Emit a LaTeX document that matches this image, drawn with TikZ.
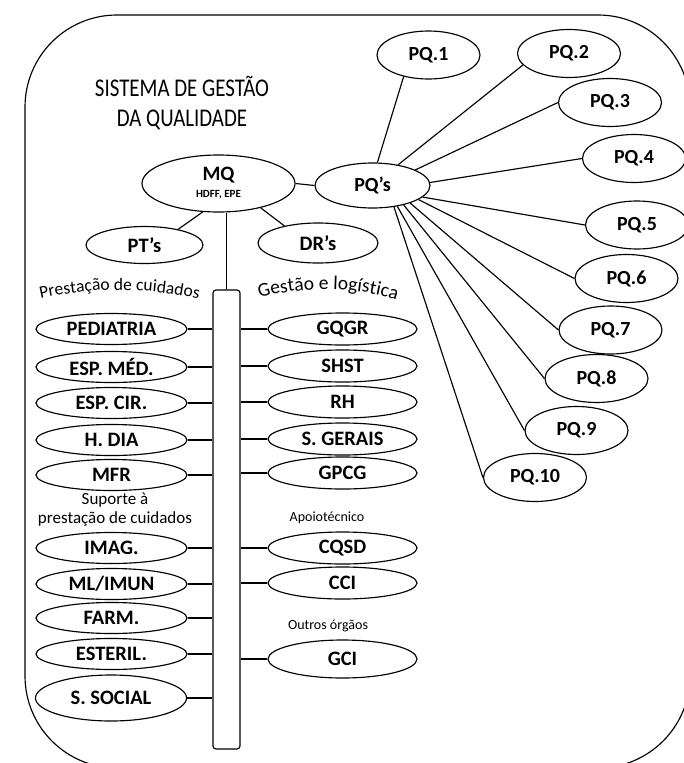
\documentclass[tikz,border=0pt]{standalone}
\usepackage{fontspec}
\setmainfont{Carlito}
\newfontfamily\titlefont{Carlito}[FakeStretch=0.82]
\usetikzlibrary{shapes.geometric,decorations.text}
\begin{document}
\begin{tikzpicture}[x=1pt,y=-1pt,line width=1.15pt,
  oval/.style={draw, ellipse, inner sep=0pt, font=\fontsize{20.5}{22}\selectfont\bfseries},
  loval/.style={oval, minimum width=151pt, minimum height=31pt},
  roval/.style={oval, minimum width=149pt, minimum height=32pt},
  pq/.style={oval, minimum width=103pt, minimum height=48pt, font=\fontsize{20}{22}\selectfont\bfseries},
  lbl/.style={align=center, inner sep=0pt},
  link/.style={draw, line width=1.15pt}]
\useasboundingbox (0,0) rectangle (684,763);
% outer frame
\draw[rounded corners=92pt] (25,15) rectangle (690,768);
% title
\node[lbl, font=\titlefont\fontsize{25.5}{30}\selectfont] (title) at (182,103) {SISTEMA DE GESTÃO\\DA QUALIDADE};
% top nodes
\node[oval, minimum width=153pt, minimum height=57pt, align=center] (MQ) at (218.5,183.5)
  {MQ\\[-5pt]{\fontsize{11}{12}\selectfont HDFF, EPE}};
\node[oval, minimum width=115pt, minimum height=45pt, font=\fontsize{20}{22}\selectfont\bfseries] (PQs) at (372.5,185.5) {PQ’s};
\node[oval, minimum width=117pt, minimum height=37pt] (PTs) at (144.5,245) {PT’s};
\node[oval, minimum width=120pt, minimum height=40pt] (DRs) at (318,243) {DR’s};
% bar
\node[draw, rounded corners=3pt, inner sep=0pt, minimum width=27pt, minimum height=459pt] (bar) at (226.5,519.5) {};
% curved headings
\path[decorate, decoration={text along path, text align=center,
  text={|\fontsize{17.5}{19}\selectfont|Prestação de cuidados}}]
  (38,299) .. controls (90,287) and (150,287) .. (201,300);
\path[decorate, decoration={text along path, text align=center,
  text={|\fontsize{19.5}{21}\selectfont|Gestão e logística}}]
  (255,299) .. controls (300,286) and (356,286) .. (401,301);
% left column
\node[loval] (ped) at (111.5,329) {PEDIATRIA};
\node[loval] (med) at (111.5,367) {ESP. MÉD.};
\node[loval] (cir) at (111.5,403) {ESP. CIR.};
\node[loval] (dia) at (111.5,440) {H. DIA};
\node[loval] (mfr) at (111.5,475) {MFR};
\node[lbl, font=\fontsize{17}{19}\selectfont] (sup) at (115,510) {Suporte à\\prestação de cuidados};
\node[loval] (img) at (111.5,548) {IMAG.};
\node[loval] (mli) at (111.5,584) {ML/IMUN};
\node[loval] (frm) at (111.5,618) {FARM.};
\node[loval] (est) at (111.5,654) {ESTERIL.};
\node[loval, minimum height=46pt] (soc) at (111,698) {S. SOCIAL};
% right column
\node[roval] (gqgr) at (342.5,329) {GQGR};
\node[roval] (shst) at (342.5,366) {SHST};
\node[roval] (rh) at (342.5,402) {RH};
\node[roval] (sg) at (342.5,439) {S. GERAIS};
\node[roval] (gpcg) at (342.5,473) {GPCG};
\node[lbl, font=\fontsize{14}{15}\selectfont] (apo) at (327,518) {Apoiotécnico};
\node[roval] (cqsd) at (342.5,548) {CQSD};
\node[roval] (cci) at (342.5,583) {CCI};
\node[lbl, font=\fontsize{14}{15}\selectfont] (out) at (328,626) {Outros órgãos};
\node[roval, minimum height=38pt] (gci) at (342.5,659) {GCI};
% PQ nodes
\node[pq] (PQ1) at (428.5,55) {PQ.1};
\node[pq] (PQ2) at (569,53.5) {PQ.2};
\node[pq] (PQ3) at (610,102.5) {PQ.3};
\node[pq] (PQ4) at (634,158.5) {PQ.4};
\node[pq] (PQ5) at (637,225) {PQ.5};
\node[pq] (PQ6) at (626.5,278.5) {PQ.6};
\node[pq] (PQ7) at (610.5,330) {PQ.7};
\node[pq] (PQ8) at (596.5,378.5) {PQ.8};
\node[pq] (PQ9) at (576.5,430.5) {PQ.9};
\node[pq] (PQ10) at (535,477.5) {PQ.10};
% connectors top
\draw[link] (MQ.east) -- (PQs.west);
\draw[link] (MQ.-119) -- (PTs.25);
\draw[link] (MQ.-30) -- (DRs.153);
\draw[link] (bar.north) -- (bar.north |- MQ.south);
% PQ star
\draw[link] (PQs.78) -- (PQ1.-139);
\draw[link] (PQs.39) -- (PQ2.-166);
\draw[link] (PQs.20) -- (PQ3.west);
\draw[link] (PQs.3) -- (PQ4.west);
\draw[link] (PQs.-13) -- (PQ5.west);
\draw[link] (PQs.-17) -- (PQ6.west);
\draw[link] (PQs.-25) -- (PQ7.west);
\draw[link] (PQs.-32) -- (PQ8.west);
\draw[link] (PQs.-40) -- (PQ9.west);
\draw[link] (PQs.-45) -- (PQ10.west);
% left connectors
\foreach \n in {ped,med,cir,dia,mfr,img,mli,frm,est,soc}
  \draw[link] (\n.east) -- (\n.east -| bar.west);
% right connectors
\foreach \n in {gqgr,shst,rh,sg,gpcg,cqsd,cci,gci}
  \draw[link] (\n.west) -- (\n.west -| bar.east);
\end{tikzpicture}
\end{document}
